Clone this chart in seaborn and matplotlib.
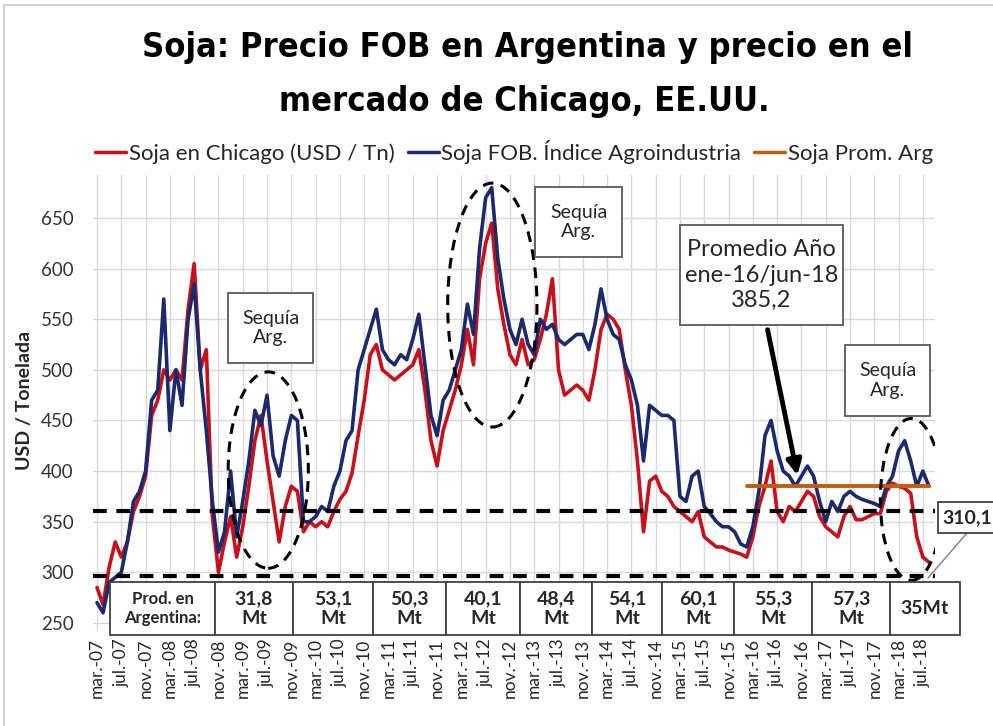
import matplotlib
matplotlib.use("Agg")
import matplotlib.pyplot as plt
import seaborn as sns
import pandas as pd
from matplotlib import font_manager as fm
from matplotlib.patches import Ellipse, Rectangle, FancyArrowPatch
from matplotlib.lines import Line2D

# ---------------- data ----------------
tick_labels = ["mar.-07", "jul.-07", "nov.-07", "mar.-08", "jul.-08", "nov.-08",
               "mar.-09", "jul.-09", "nov.-09", "mar.-10", "jul.-10", "nov.-10",
               "mar.-11", "jul.-11", "nov.-11", "mar.-12", "jul.-12", "nov.-12",
               "mar.-13", "jul.-13", "nov.-13", "mar.-14", "jul.-14", "nov.-14",
               "mar.-15", "jul.-15", "nov.-15", "mar.-16", "jul.-16", "nov.-16",
               "mar.-17", "jul.-17", "nov.-17", "mar.-18", "jul.-18"]

# monthly values, mar-07 ... aug-18 (USD / t)
fob = [270, 260, 290, 295, 300, 330, 370, 380, 400, 470,
       480, 570, 440, 500, 465, 550, 585, 500, 440, 370,
       320, 340, 400, 335, 370, 410, 460, 445, 475, 415,
       395, 430, 455, 450, 350, 350, 355, 365, 360, 385,
       400, 430, 440, 500, 520, 540, 560, 520, 510, 505,
       515, 510, 530, 555, 505, 455, 435, 470, 480, 500,
       520, 565, 535, 620, 670, 680, 610, 570, 540, 525,
       550, 525, 515, 550, 540, 545, 530, 525, 530, 535,
       535, 520, 545, 580, 550, 535, 530, 505, 490, 465,
       410, 465, 460, 455, 455, 450, 375, 370, 395, 400,
       365, 358, 350, 345, 345, 340, 328, 325, 345, 380,
       435, 450, 420, 400, 395, 385, 395, 405, 395, 370,
       350, 370, 360, 375, 380, 375, 372, 370, 368, 365,
       385, 395, 420, 430, 410, 385, 400, 385]

chicago = [285, 268, 305, 330, 315, 330, 360, 375, 395, 455,
           470, 500, 490, 500, 490, 560, 605, 500, 520, 355,
           300, 330, 355, 315, 345, 385, 430, 455, 410, 370,
           330, 365, 385, 380, 340, 350, 345, 350, 345, 360,
           372, 380, 398, 435, 470, 515, 525, 500, 495, 490,
           495, 500, 505, 520, 480, 430, 405, 440, 460, 480,
           505, 540, 505, 590, 625, 645, 580, 545, 515, 505,
           530, 505, 510, 530, 555, 590, 500, 475, 480, 485,
           480, 470, 500, 540, 555, 550, 540, 500, 465, 410,
           340, 390, 395, 380, 375, 365, 360, 355, 350, 360,
           335, 330, 325, 325, 322, 320, 318, 315, 335, 365,
           385, 410, 360, 350, 365, 360, 370, 380, 375, 355,
           345, 340, 335, 355, 365, 352, 352, 355, 358, 358,
           380, 388, 385, 383, 378, 335, 315, 310]

prom_start = 107            # month index where the average line starts
prom_arg = [385.2] * 31     # average ene-16/jun-18

prod_labels = ["31,8\nMt", "53,1\nMt", "50,3\nMt", "40,1\nMt", "48,4\nMt",
               "54,1\nMt", "60,1\nMt", "55,3\nMt", "57,3\nMt", "35Mt"]
ref_levels = [361, 296.5]
last_value = "310,1"

# ---------------- styling ----------------
W, H = 993, 726
sns.set_style("white")
plt.rcParams['font.family'] = ['Lato', 'DejaVu Sans']

fig = plt.figure(figsize=(W / 100, H / 100), dpi=100)


def fx(x):
    return x / W


def fy(y):
    return 1 - y / H


def weight_num(w):
    if isinstance(w, (int, float)):
        return w
    return {'bold': 700, 'heavy': 800, 'black': 900, 'extra bold': 800,
            'semibold': 600, 'demibold': 600, 'demi': 600}.get(str(w).lower(), 400)


# pick a narrow / condensed bold font for the title if one exists
best = None
for f in fm.fontManager.ttflist:
    desc = (f.name + ' ' + str(f.stretch) + ' ' + f.fname).lower()
    if ('narrow' in desc or 'condensed' in desc) and weight_num(f.weight) >= 600 \
            and 'oblique' not in desc and 'italic' not in desc and f.style == 'normal':
        score = 0 if 'liberation' in desc else (1 if 'dejavu' in desc else 2)
        if best is None or score < best[0]:
            best = (score, f.fname)
if best is not None:
    title_fp = fm.FontProperties(fname=best[1])
else:
    title_fp = fm.FontProperties(family='Roboto', weight='bold')

ax_l, ax_r, ax_t, ax_b = 93, 935, 175, 630
ax = fig.add_axes([fx(ax_l), fy(ax_b), (ax_r - ax_l) / W, (ax_b - ax_t) / H])

df = pd.DataFrame({"m": range(len(fob)), "fob": fob, "chicago": chicago})
dfp = pd.DataFrame({"m": range(prom_start, prom_start + len(prom_arg)), "v": prom_arg})

RED = "#C8101A"
BLUE = "#1A2A6C"
ORANGE = "#C55A11"

sns.lineplot(data=df, x="m", y="chicago", ax=ax, color=RED, lw=2.6, zorder=3)
sns.lineplot(data=df, x="m", y="fob", ax=ax, color=BLUE, lw=2.6, zorder=4)
sns.lineplot(data=dfp, x="m", y="v", ax=ax, color=ORANGE, lw=2.8, zorder=5)

ax.set_xlim(-0.66, 138.0)
ax.set_ylim(243, 692.5)
ax.set_yticks(range(250, 651, 50))
ax.set_xticks(range(0, 4 * len(tick_labels), 4))
ax.set_xticklabels(tick_labels, rotation=90, fontsize=12.5, color="#262626")
ax.tick_params(axis='y', labelsize=13.5, colors="#333333", length=0, pad=14)
ax.tick_params(axis='x', length=0, pad=6)
ax.set_xlabel("")
ax.set_ylabel("")
ax.grid(True, color="#D9D9D9", lw=1)
ax.set_axisbelow(True)
for s in ax.spines.values():
    s.set_visible(False)

# reference dashed lines
for lv in ref_levels:
    ax.axhline(lv, color="black", lw=3, ls=(0, (3.3, 2.3)), zorder=6)

# drought ellipses (data coordinates)
for (cx, cy, w, h) in [(28.2, 401, 13.2, 194), (65.1, 564, 14.7, 241), (134.1, 372, 10.2, 160)]:
    ax.add_patch(Ellipse((cx, cy), w, h, fill=False, ec="black", lw=2.2,
                         ls=(0, (3.5, 2.5)), zorder=7))

# y label
fig.text(fx(25), fy(400), "USD / Tonelada", rotation=90, ha="center", va="center",
         fontsize=14, fontweight="bold", color="#262626")

# title, sized so that the first line spans the reference width
renderer = fig.canvas.get_renderer()
t1 = fig.text(fx(527), fy(47), "Soja: Precio FOB en Argentina y precio en el",
              ha="center", va="center", fontproperties=title_fp, color="black")
t1.set_fontsize(30)
title_size = min(44, 30 * 767 / t1.get_window_extent(renderer).width)
t1.set_fontsize(title_size)
t2 = fig.text(fx(524), fy(102), "mercado de Chicago, EE.UU.", ha="center", va="center",
              fontproperties=title_fp, color="black")
t2.set_fontsize(title_size)

# legend
handles = [Line2D([], [], color=RED, lw=2.5), Line2D([], [], color=BLUE, lw=2.5),
           Line2D([], [], color=ORANGE, lw=2.5)]
labels = ["Soja en Chicago (USD / Tn)", "Soja FOB. Índice Agroindustria", "Soja Prom. Arg"]
fig.legend(handles, labels, loc="center", bbox_to_anchor=(fx(514), fy(152)), ncol=3,
           frameon=False, fontsize=16, handlelength=1.4, handletextpad=0.1,
           columnspacing=0.6, labelcolor="#262626")


def box(x0, y0, x1, y1, text, fs, bold=False, ec="#595959", lw=1.3, ls=1.2):
    fig.add_artist(Rectangle((fx(x0), fy(y1)), (x1 - x0) / W, (y1 - y0) / H,
                             transform=fig.transFigure, fc="white", ec=ec, lw=lw, zorder=10))
    fig.text(fx((x0 + x1) / 2), fy((y0 + y1) / 2), text, ha="center", va="center",
             fontsize=fs, fontweight="bold" if bold else "normal", color="#262626",
             linespacing=ls, zorder=11)


# Sequía boxes
box(228, 293, 313, 363, "Sequía\nArg.", 14)
box(535, 187, 622, 257, "Sequía\nArg.", 14)
box(845, 345, 930, 416, "Sequía\nArg.", 14)

# promedio box + arrow
box(680, 225, 843, 325, "Promedio Año\nene-16/jun-18\n385,2", 17, ls=1.25)
fig.add_artist(FancyArrowPatch((fx(767), fy(327)), (fx(798), fy(478)),
                               transform=fig.transFigure, arrowstyle="-|>",
                               mutation_scale=22, lw=3.5, color="black", zorder=12))

# production boxes
edges = [110, 215, 293, 373, 446, 520, 592, 662, 734, 812, 890, 960]
box(edges[0], 582, edges[1], 635, "Prod. en\nArgentina:", 12, bold=True, ec="#404040")
for i, lab in enumerate(prod_labels):
    box(edges[i + 1], 582, edges[i + 2], 635, lab, 14, bold=True, ec="#404040")

# last value callout
fig.add_artist(Line2D([fx(967), fx(928)], [fy(533), fy(578)], transform=fig.transFigure,
                      color="#7F7F7F", lw=1, zorder=9))
box(938, 502, 996, 533, last_value, 14, bold=True, ec="#404040")

# image frame
fig.add_artist(Line2D([fx(4), fx(4), fx(993)], [fy(726), fy(5), fy(5)],
                      transform=fig.transFigure, color="#D0D0D0", lw=1.5))

fig.savefig("out.png", dpi=100)
